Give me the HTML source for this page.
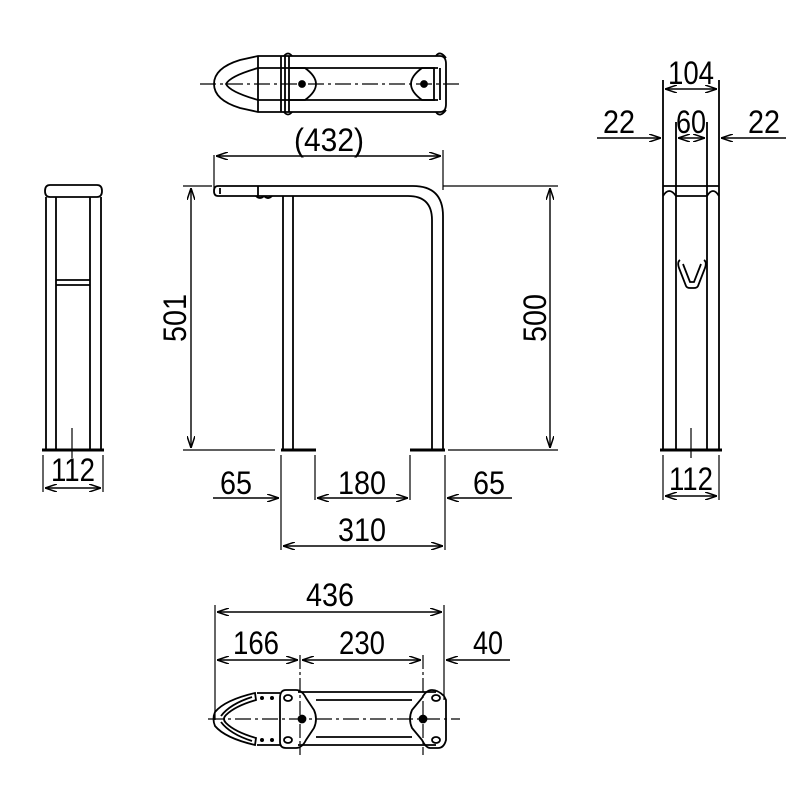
<!DOCTYPE html>
<html><head><meta charset="utf-8"><style>
html,body{margin:0;padding:0;background:#fff;}
svg{display:block}
text{font-family:"Liberation Sans",sans-serif;font-size:32px;fill:#000;text-anchor:middle}
</style></head><body>
<svg width="800" height="800" viewBox="0 0 800 800" xmlns="http://www.w3.org/2000/svg">
<defs>
<marker id="a" viewBox="0 0 12 8" refX="12" refY="4" markerWidth="12" markerHeight="8" orient="auto-start-reverse" markerUnits="userSpaceOnUse">
<path d="M0,0 L12,4 L0,8" fill="none" stroke="#000" stroke-width="1.5"/></marker>
</defs>
<g fill="none" stroke="#000" stroke-width="1.8">

<!-- TOP VIEW -->
<line x1="200" y1="84" x2="460" y2="84" stroke-dasharray="16,4,3,4" stroke-width="1.2"/>
<path d="M258,56 L440,56 Q446,56 446,64 L446,104 Q446,112 440,112 L258,112 L240,108 Q214,100 214,84 Q214,68 240,60 Z"/>
<path d="M258,68 L438,68 M258,100 L438,100"/>
<path d="M258,56 L258,112"/>
<path d="M258,68 Q230,76 226,84 Q230,92 258,100"/>
<path d="M281,56 L281,112 M285,56 L285,112 M289,56 L289,112"/>
<path d="M289,68 L305,68 Q316,76 316,84 Q316,92 305,100 L289,100"/>
<circle cx="302" cy="84" r="3" fill="#000"/>
<path d="M435,68 L422,68 Q411,76 411,84 Q411,92 422,100 L435,100"/>
<circle cx="424" cy="84" r="3" fill="#000"/>
<path d="M284,56 Q288,51 292,56 M284,112 Q288,117 292,112 M436,56 Q440,50 446,58 M436,112 Q440,118 446,110"/>
<path d="M434,68 L434,100 M440,68 L440,100"/>

<!-- FRONT VIEW -->
<path d="M214,155 L214,190 M443,150 L443,190" stroke-width="1.2"/>
<line x1="216" y1="156" x2="441" y2="156" marker-start="url(#a)" marker-end="url(#a)" stroke-width="1.4"/>
<path d="M183,186 L212,186 M443,186 L558,186 M183,450 L275,450 M448,450 L558,450" stroke-width="1.2"/>
<path d="M218,186 L413,186 Q443,186 443,216 L443,450 M432,450 L432,220 Q432,196 408,196 L258,196"/>
<path d="M258,186 L258,196 M218,186 Q214,186 214,191 Q214,196 218,196 L258,196 M220,188 L220,194"/>
<path d="M256,196 Q260,200 264,196 M264,196 Q268,200 272,196"/>
<path d="M283,196 L283,450 M293,196 L293,450"/>
<path d="M281,450 L316,450 M410,450 L445,450" stroke-width="3"/>
<line x1="191" y1="188" x2="191" y2="448" marker-start="url(#a)" marker-end="url(#a)" stroke-width="1.4"/>
<line x1="550" y1="188" x2="550" y2="448" marker-start="url(#a)" marker-end="url(#a)" stroke-width="1.4"/>
<path d="M281,455 L281,550 M315,455 L315,500 M410,455 L410,500 M445,455 L445,550" stroke-width="1.2"/>
<line x1="213" y1="498" x2="279" y2="498" marker-end="url(#a)" stroke-width="1.4"/>
<line x1="317" y1="498" x2="408" y2="498" marker-start="url(#a)" marker-end="url(#a)" stroke-width="1.4"/>
<line x1="512" y1="498" x2="447" y2="498" marker-end="url(#a)" stroke-width="1.4"/>
<line x1="283" y1="546" x2="443" y2="546" marker-start="url(#a)" marker-end="url(#a)" stroke-width="1.4"/>

<!-- LEFT SIDE VIEW -->
<path d="M50,185 L97,185 Q102,185 102,191 Q102,197 97,197 L50,197 Q45,197 45,191 Q45,185 50,185 Z"/>
<path d="M46,197 L46,450 M56,197 L56,450 M90,197 L90,450 M101,197 L101,450"/>
<path d="M56,280 L90,280 M56,285 L90,285"/>
<path d="M42,450 L104,450" stroke-width="3"/>
<path d="M72,428 L72,458 M43,455 L43,492 M103,455 L103,492" stroke-width="1.2"/>
<line x1="45" y1="488" x2="101" y2="488" marker-start="url(#a)" marker-end="url(#a)" stroke-width="1.4"/>

<!-- RIGHT SIDE VIEW -->
<path d="M663,80 L663,450 M719,80 L719,450 M676,122 L676,450 M707,122 L707,450" />
<path d="M663,186 L719,186 M676,196 L707,196"/>
<path d="M663,196 Q669,186 676,196 M707,196 Q713,186 719,196"/>
<path d="M680,260 Q677,262 679,268 L686,286 Q687,288 690,288 L694,288 Q697,288 698,286 L705,268 Q707,262 704,260 M683,264 L690,282 L694,282 L701,264"/>
<path d="M660,450 L722,450" stroke-width="3"/>
<path d="M691,428 L691,458 M663,455 L663,500 M719,455 L719,500" stroke-width="1.2"/>
<line x1="665" y1="496" x2="717" y2="496" marker-start="url(#a)" marker-end="url(#a)" stroke-width="1.4"/>
<line x1="665" y1="89" x2="717" y2="89" marker-start="url(#a)" marker-end="url(#a)" stroke-width="1.4"/>
<line x1="597" y1="138" x2="661" y2="138" marker-end="url(#a)" stroke-width="1.4"/>
<line x1="678" y1="138" x2="705" y2="138" marker-start="url(#a)" marker-end="url(#a)" stroke-width="1.4"/>
<line x1="786" y1="138" x2="721" y2="138" marker-end="url(#a)" stroke-width="1.4"/>

<!-- BOTTOM VIEW -->
<path d="M215,605 L215,720 M444,605 L444,700" stroke-width="1.2"/>
<path d="M300,655 L300,755 M423,655 L423,755" stroke-dasharray="14,3,3,3" stroke-width="1.2"/>
<line x1="217" y1="612" x2="442" y2="612" marker-start="url(#a)" marker-end="url(#a)" stroke-width="1.4"/>
<line x1="217" y1="660" x2="298" y2="660" marker-start="url(#a)" marker-end="url(#a)" stroke-width="1.4"/>
<line x1="302" y1="660" x2="421" y2="660" marker-start="url(#a)" marker-end="url(#a)" stroke-width="1.4"/>
<line x1="510" y1="660" x2="446" y2="660" marker-end="url(#a)" stroke-width="1.4"/>
<line x1="208" y1="719" x2="460" y2="719" stroke-dasharray="16,4,3,4" stroke-width="1.2"/>
<path d="M298,692 L436,692 M298,745 L436,745 M316,700 L412,700 M316,737 L412,737"/>
<path d="M257,693 L280,693 M257,745 L280,745"/>
<path d="M255,693 Q225,700 215,712 Q212,719 215,726 Q225,738 255,745 L256,738 Q235,732 226,723 Q222,719 226,715 Q235,706 256,700 Z"/>
<path d="M252,697 Q230,704 221,716 M252,741 Q230,734 221,722"/>
<path d="M286,690 Q280,690 280,698 L280,742 Q280,748 286,748 L296,748 Q302,748 306,740 L314,728 Q318,719 314,710 L306,698 Q302,690 296,690 Z"/>
<path d="M432,690 Q438,690 444,696 L446,700 L446,740 Q444,748 438,748 L430,748 Q426,748 422,740 L412,728 Q408,719 412,710 L422,698 Q426,690 432,690 Z"/>
<ellipse cx="288" cy="698" rx="4" ry="3"/><ellipse cx="288" cy="740" rx="4" ry="3"/>
<ellipse cx="436" cy="698" rx="4" ry="3"/><ellipse cx="436" cy="740" rx="4" ry="3"/>
<circle cx="302" cy="719" r="3.5" fill="#000"/><circle cx="423" cy="719" r="3.5" fill="#000"/>
<g fill="#000" stroke="none"><circle cx="262" cy="698" r="2"/><circle cx="272" cy="698" r="2"/><circle cx="262" cy="740" r="2"/><circle cx="272" cy="740" r="2"/></g>
</g>

<g lengthAdjust="spacingAndGlyphs">
<text x="329" y="151" textLength="70" lengthAdjust="spacingAndGlyphs">(432)</text>
<text x="0" y="0" transform="translate(186,318) rotate(-90)" textLength="48" lengthAdjust="spacingAndGlyphs">501</text>
<text x="0" y="0" transform="translate(546,318) rotate(-90)" textLength="48" lengthAdjust="spacingAndGlyphs">500</text>
<text x="236" y="494" textLength="32" lengthAdjust="spacingAndGlyphs">65</text>
<text x="362" y="494" textLength="48" lengthAdjust="spacingAndGlyphs">180</text>
<text x="489" y="494" textLength="32" lengthAdjust="spacingAndGlyphs">65</text>
<text x="362" y="541" textLength="48" lengthAdjust="spacingAndGlyphs">310</text>
<text x="73" y="481" textLength="44" lengthAdjust="spacingAndGlyphs">112</text>
<text x="691" y="490" textLength="44" lengthAdjust="spacingAndGlyphs">112</text>
<text x="691" y="84" textLength="46" lengthAdjust="spacingAndGlyphs">104</text>
<text x="619" y="133" textLength="32" lengthAdjust="spacingAndGlyphs">22</text>
<text x="691" y="133" textLength="30" lengthAdjust="spacingAndGlyphs">60</text>
<text x="764" y="133" textLength="32" lengthAdjust="spacingAndGlyphs">22</text>
<text x="330" y="606" textLength="48" lengthAdjust="spacingAndGlyphs">436</text>
<text x="256" y="654" textLength="46" lengthAdjust="spacingAndGlyphs">166</text>
<text x="362" y="654" textLength="46" lengthAdjust="spacingAndGlyphs">230</text>
<text x="488" y="654" textLength="30" lengthAdjust="spacingAndGlyphs">40</text>
</g>
</svg>
</body></html>
